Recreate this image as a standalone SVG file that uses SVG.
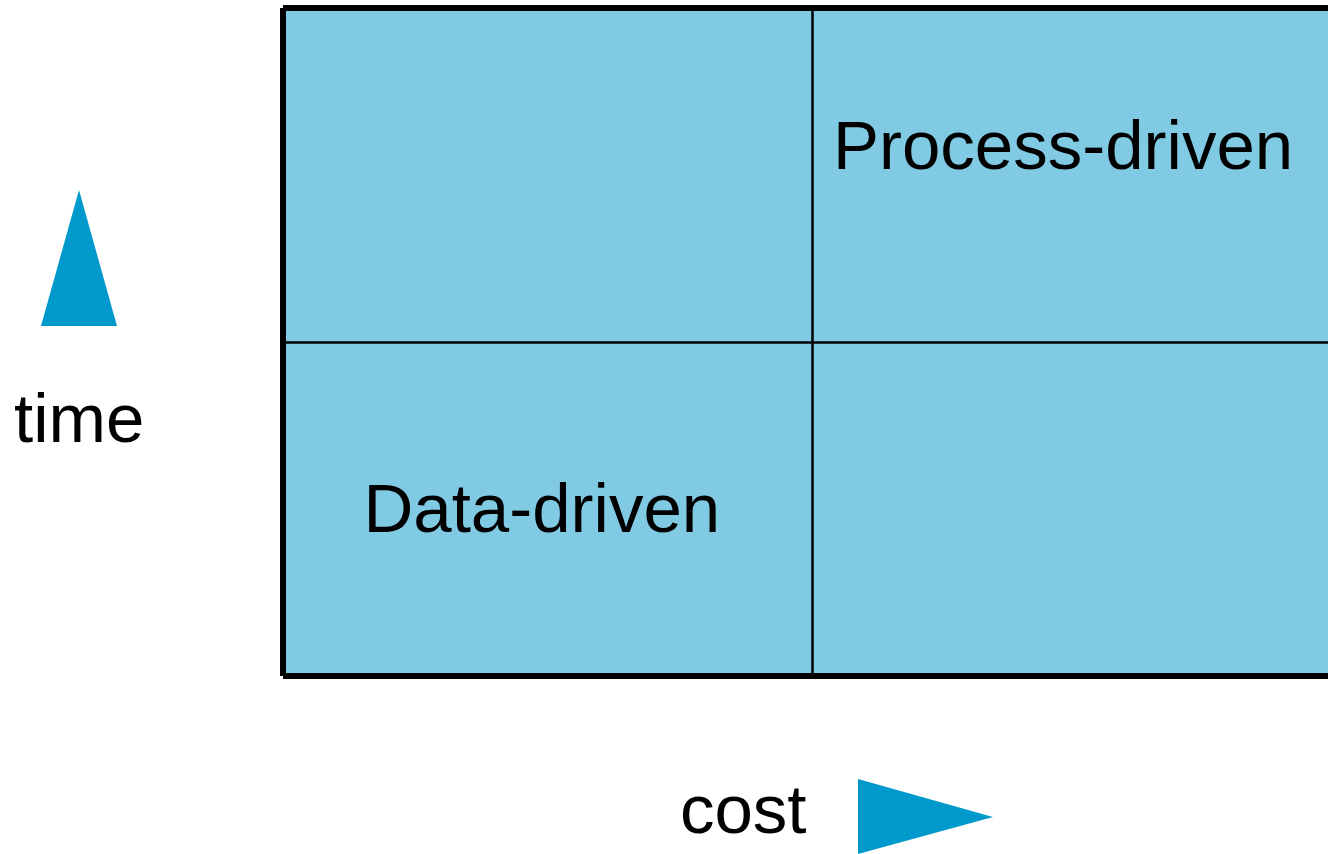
<svg xmlns="http://www.w3.org/2000/svg" width="1328" height="854" viewBox="0 0 1328 854">
<style>
.lbl{font-family:"Liberation Sans",Arial,sans-serif;font-size:69px;fill:#000}
.tri{fill:#0099CC}
.frame{stroke:#000;stroke-width:6;fill:none}
.div{stroke:#000;stroke-width:2.5;fill:none}
</style>
<rect width="1328" height="854" fill="#fff"/>
<g id="grid">
<rect x="283" y="8" width="1045" height="668" fill="#80CBE3"/>
<line class="div" x1="812.5" y1="8" x2="812.5" y2="676"/>
<line class="div" x1="283" y1="342.5" x2="1328" y2="342.5"/>
<line class="frame" x1="283" y1="8" x2="1328" y2="8"/>
<line class="frame" x1="283" y1="8" x2="283" y2="676"/>
<line class="frame" x1="283" y1="676" x2="1328" y2="676"/>
</g>
<g id="process-driven"><text class="lbl" x="833" y="169">Process-driven</text></g>
<g id="data-driven"><text class="lbl" x="363.5" y="531.5">Data-driven</text></g>
<g id="time-axis">
<polygon class="tri" points="79,190 41,326 117,326"/>
<text class="lbl" x="14" y="442">time</text>
</g>
<g id="cost-axis">
<polygon class="tri" points="858,779 858,854 993,817"/>
<text class="lbl" x="680" y="833">cost</text>
</g>
<g id="connectors"></g>
</svg>
